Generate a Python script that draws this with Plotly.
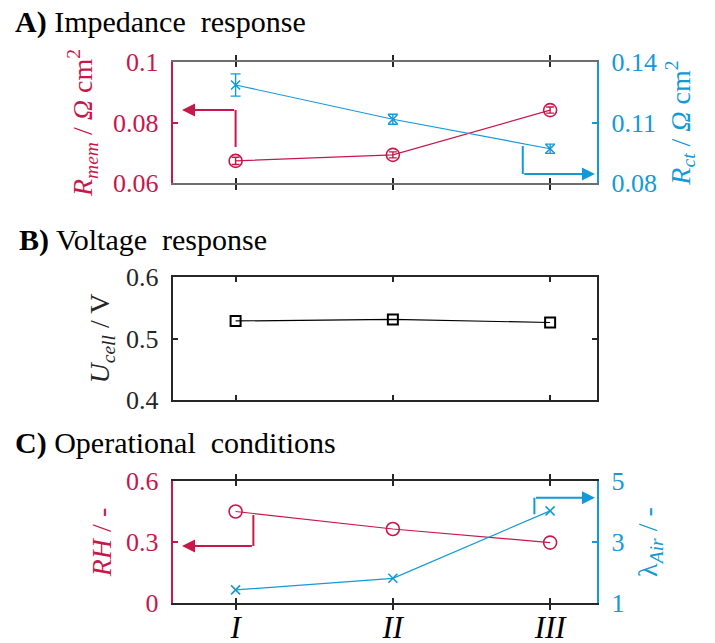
import plotly.graph_objects as go

# Operating points I, II, III
conditions = [1, 2, 3]
condition_labels = ["<i>I</i>", "<i>II</i>", "<i>III</i>"]

# A) Impedance response
r_mem = [0.0673, 0.0693, 0.0841]
r_mem_err = [0.0012, 0.0010, 0.0010]
r_ct = [0.1286, 0.1116, 0.0970]
r_ct_err = [0.0055, 0.0025, 0.0023]

# B) Voltage response
u_cell = [0.5285, 0.5310, 0.5260]

# C) Operational conditions
rh = [0.450, 0.364, 0.297]
lambda_air = [1.43, 1.81, 4.02]

RED = "#C8174B"
BLUE = "#139AD6"
DARK = "#262626"
GREY = "#6E6E6E"
FONT = "Liberation Serif"

W, H = 715, 643


def py(px):
    """Convert a pixel row (from top) to paper y."""
    return 1 - px / H


X_DOM = [172.7 / W, 597.3 / W]
DOM_A = [py(183), py(62)]
DOM_B = [py(400), py(277)]
DOM_C = [py(603), py(481)]
X_RANGE = [0.6, 3.3]

fig = go.Figure()

# Panel A
fig.add_trace(go.Scatter(
    x=conditions, y=r_mem, xaxis="x", yaxis="y", mode="lines+markers",
    line=dict(color=RED, width=1.2),
    marker=dict(symbol="circle-open", size=13, color=RED, line=dict(width=1.6)),
    error_y=dict(type="data", array=r_mem_err, color=RED, thickness=1.4, width=4),
))
fig.add_trace(go.Scatter(
    x=conditions, y=r_ct, xaxis="x", yaxis="y2", mode="lines+markers",
    line=dict(color=BLUE, width=1.2),
    marker=dict(symbol="x-thin-open", size=9, color=BLUE, line=dict(width=1.6, color=BLUE)),
    error_y=dict(type="data", array=r_ct_err, color=BLUE, thickness=1.4, width=5),
))

# Panel B
fig.add_trace(go.Scatter(
    x=conditions, y=u_cell, xaxis="x2", yaxis="y3", mode="lines+markers",
    line=dict(color="black", width=1.2),
    marker=dict(symbol="square-open", size=10, color="black", line=dict(width=2)),
))

# Panel C
fig.add_trace(go.Scatter(
    x=conditions, y=rh, xaxis="x3", yaxis="y4", mode="lines+markers",
    line=dict(color=RED, width=1.2),
    marker=dict(symbol="circle-open", size=13, color=RED, line=dict(width=1.6)),
))
fig.add_trace(go.Scatter(
    x=conditions, y=lambda_air, xaxis="x3", yaxis="y5", mode="lines+markers",
    line=dict(color=BLUE, width=1.2),
    marker=dict(symbol="x-thin-open", size=9, color=BLUE, line=dict(width=1.6, color=BLUE)),
))


def x_axis(anchor, line_color, labels=False):
    return dict(
        domain=X_DOM, anchor=anchor, range=X_RANGE, automargin=False,
        tickvals=conditions, ticktext=condition_labels,
        showticklabels=labels, ticks="inside", ticklen=5, tickwidth=1.5,
        tickcolor=DARK, showline=True, linecolor=line_color, linewidth=2,
        mirror="allticks", showgrid=False, zeroline=False,
        tickfont=dict(family=FONT, size=31, color="black"),
        ticklabelstandoff=-4,
    )


def y_axis(domain, rng, vals, texts, color, title, side="left", mirror=False,
           standoff=12, anchor="x", overlaying=None):
    d = dict(
        range=rng, tickvals=vals, ticktext=texts, side=side, anchor=anchor,
        automargin=False,
        showline=True, linecolor=color, linewidth=2, mirror=mirror,
        ticks="inside", ticklen=5, tickwidth=1.5, tickcolor=color,
        showgrid=False, zeroline=False,
        tickfont=dict(family=FONT, size=26, color=color),
        ticklabelstandoff=7,
        title=dict(text=title, font=dict(family=FONT, size=28, color=color),
                   standoff=standoff),
    )
    if overlaying:
        d["overlaying"] = overlaying
    else:
        d["domain"] = domain
    return d


fig.update_layout(
    width=W, height=H, margin=dict(l=0, r=0, t=0, b=0),
    paper_bgcolor="white", plot_bgcolor="white", showlegend=False,
    font=dict(family=FONT, color=DARK),
    xaxis=x_axis("y", GREY),
    xaxis2=x_axis("y3", DARK),
    xaxis3=x_axis("y4", DARK, labels=True),
    yaxis=y_axis(DOM_A, [0.06, 0.1], [0.06, 0.08, 0.1], ["0.06", "0.08", "0.1"], RED,
                 "<i>R</i><sub><i>mem</i></sub> / <i>Ω</i> cm<sup>2</sup>", standoff=12),
    yaxis2=y_axis(DOM_A, [0.08, 0.14], [0.08, 0.11, 0.14], ["0.08", "0.11", "0.14"], BLUE,
                  "<i>R</i><sub><i>ct</i></sub> / <i>Ω</i> cm<sup>2</sup>", side="right",
                  overlaying="y", standoff=14),
    yaxis3=y_axis(DOM_B, [0.4, 0.6], [0.4, 0.5, 0.6], ["0.4", "0.5", "0.6"], DARK,
                  "<i>U</i><sub><i>cell</i></sub> / V", mirror="allticks", anchor="x2",
                  standoff=8),
    yaxis4=y_axis(DOM_C, [0, 0.6], [0, 0.3, 0.6], ["0", "0.3", "0.6"], RED,
                  "<i>RH</i> / -", anchor="x3", standoff=6),
    yaxis5=y_axis(DOM_C, [1, 5], [1, 3, 5], ["1", "3", "5"], BLUE,
                  "λ<sub><i>Air</i></sub> / -", side="right", anchor="x3",
                  overlaying="y4", standoff=14),
)

# Panel headings
for label, text, x0, y0 in [
    ("A)", "Impedance&nbsp; response", 13, 22),
    ("B)", "Voltage&nbsp; response", 17, 240),
    ("C)", "Operational&nbsp; conditions", 13, 443),
]:
    fig.add_annotation(
        xref="paper", yref="paper", x=x0 / W, y=py(y0), xanchor="left", yanchor="middle",
        text=f"<b>{label}</b> {text}", showarrow=False,
        font=dict(family=FONT, size=30, color="black"),
    )

# Elbow arrows pointing each series to its axis
elbows = [
    # (xref, yref, corner x, start y, corner y, tip x, color)
    ("x", "y", 1.0, 0.0719, 0.0841, 0.659, RED),
    ("x", "y2", 2.826, 0.0983, 0.0845, 3.285, BLUE),
    ("x3", "y4", 1.113, 0.433, 0.280, 0.659, RED),
    ("x3", "y5", 2.90, 3.91, 4.45, 3.285, BLUE),
]
for xr, yr, cx, sy, cy, tx, col in elbows:
    fig.add_shape(type="line", xref=xr, yref=yr, x0=cx, x1=cx, y0=sy, y1=cy,
                  line=dict(color=col, width=2))
    fig.add_annotation(xref=xr, yref=yr, axref=xr, ayref=yr, x=tx, y=cy, ax=cx, ay=cy,
                       text="", showarrow=True, arrowhead=2, arrowsize=1.3,
                       arrowwidth=2, arrowcolor=col)

fig.write_html("out.html")
